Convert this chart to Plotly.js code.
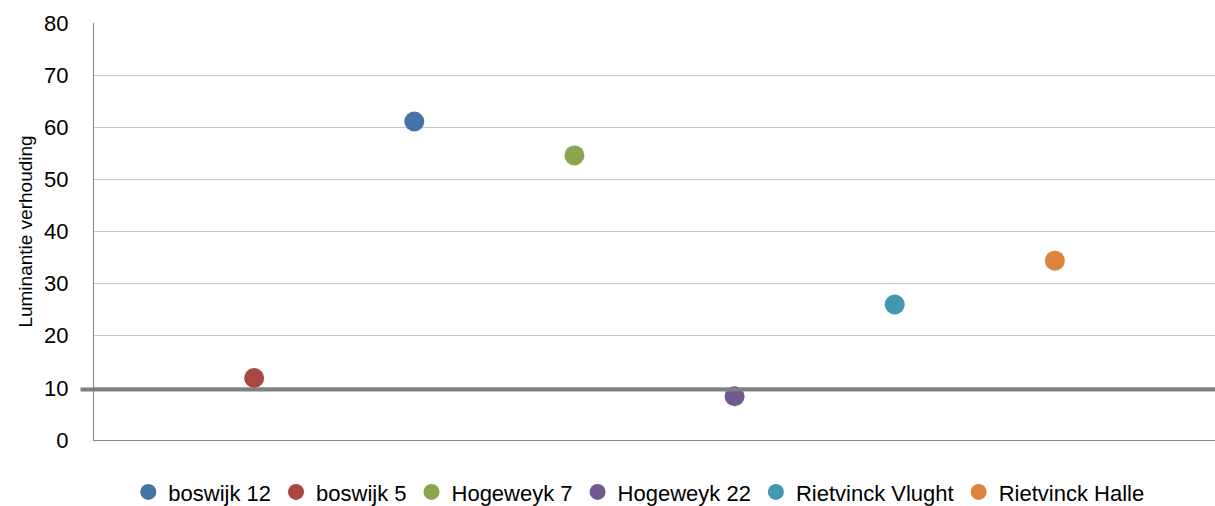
<!DOCTYPE html>
<html><head><meta charset="utf-8">
<script src="https://cdn.plot.ly/plotly-3.0.1.min.js"></script>
<style>body{margin:0;background:#fff}#c{width:1215px;height:506px}</style>
</head><body><div id="c"></div>
<script>
const names = ["boswijk 12","boswijk 5","Hogeweyk 7","Hogeweyk 22","Rietvinck Vlught","Rietvinck Halle"];
const xPos = [2,1,3,4,5,6];
const values = [61.1,11.9,54.6,8.4,26.0,34.4];
const colors = ["#4572a7","#aa4643","#89a54e","#71588f","#4198af","#db843d"];
const refLevel = 9.7;
const yTicks = [0,10,20,30,40,50,60,70,80];

const traces = names.map((n,i)=>({
  type:"scatter", mode:"markers", name:n,
  x:[xPos[i]], y:[values[i]],
  marker:{size:20, color:colors[i]}
}));

const layout = {
  width:1215, height:506,
  margin:{l:94, r:0, t:23, b:66, autoexpand:false},
  paper_bgcolor:"#fff", plot_bgcolor:"#fff",
  font:{family:"Liberation Sans, Arial, sans-serif", color:"#000"},
  showlegend:true,
  legend:{orientation:"h", x:0.486, xanchor:"center", y:-0.125, yanchor:"middle",
    font:{size:22}, itemwidth:20, tracegroupgap:0, borderwidth:0},
  xaxis:{range:[0,7], showgrid:false, zeroline:false, showticklabels:false,
    showline:true, linecolor:"#868686", linewidth:1, ticks:"", fixedrange:true},
  yaxis:{range:[0,80], tickvals:yTicks, ticktext:yTicks.map(String),
    showgrid:true, gridcolor:"#c6c6c6", gridwidth:1, zeroline:false,
    showline:true, linecolor:"#868686", linewidth:1, ticks:"",
    tickfont:{size:22}, ticklabelstandoff:20,
    title:{text:"Luminantie verhouding", font:{size:19}, standoff:6}},
  shapes:[{type:"line", xref:"paper", yref:"y", x0:-0.012, x1:1, y0:refLevel, y1:refLevel,
    line:{color:"#808080", width:4}}]
};
Plotly.newPlot("c", traces, layout, {displayModeBar:false, staticPlot:true});
</script></body></html>
